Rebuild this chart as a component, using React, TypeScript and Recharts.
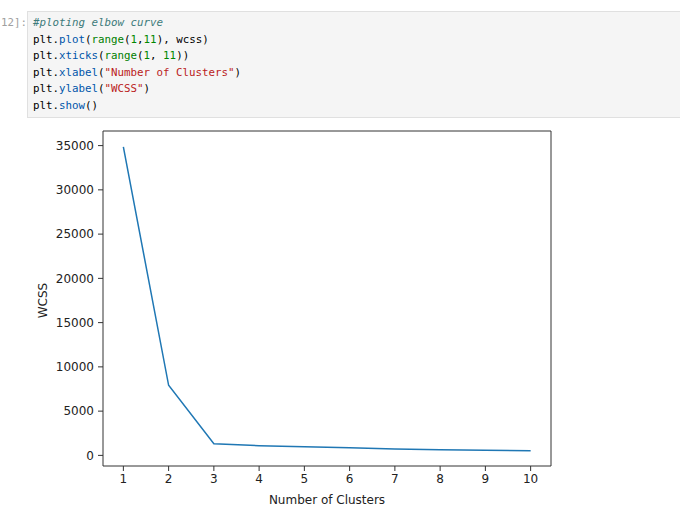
import React from 'react';
import { LineChart, Line, XAxis, YAxis, ReferenceLine } from 'recharts';

const clusters = [1, 2, 3, 4, 5, 6, 7, 8, 9, 10];
const wcss = [34850, 7920, 1320, 1100, 980, 870, 720, 640, 570, 530];
const xTicks = [1, 2, 3, 4, 5, 6, 7, 8, 9, 10];
const yTicks = [0, 5000, 10000, 15000, 20000, 25000, 30000, 35000];
const xDomain = [0.55, 10.45];
const yDomain = [-1200, 36650];

const data = clusters.map((k, i) => ({ k, wcss: wcss[i] }));

const C = {
  comment: '#3d7b7b',
  prop: '#0055aa',
  builtin: '#008000',
  num: '#008800',
  str: '#ba2121',
  txt: '#000000',
};

type Tok = [string, string, boolean?];
const codeLines: Tok[][] = [
  [['#ploting elbow curve', C.comment, true]],
  [['plt.', C.txt], ['plot', C.prop], ['(', C.txt], ['range', C.builtin], ['(', C.txt], ['1', C.num], [',', C.txt], ['11', C.num], ['), wcss)', C.txt]],
  [['plt.', C.txt], ['xticks', C.prop], ['(', C.txt], ['range', C.builtin], ['(', C.txt], ['1', C.num], [', ', C.txt], ['11', C.num], ['))', C.txt]],
  [['plt.', C.txt], ['xlabel', C.prop], ['(', C.txt], ['"Number of Clusters"', C.str], [')', C.txt]],
  [['plt.', C.txt], ['ylabel', C.prop], ['(', C.txt], ['"WCSS"', C.str], [')', C.txt]],
  [['plt.', C.txt], ['show', C.prop], ['()', C.txt]],
];

const axisColor = '#333333';
const tickStyle = { fill: '#222222', fontSize: 12, fontFamily: 'DejaVu Sans' };

const YLabel = (props: any) => {
  const vb = props.viewBox || { x: 0, y: 0, width: 0, height: 0 };
  const x = vb.x + 43;
  const y = vb.y + vb.height / 2 + 2;
  return (
    <text
      x={x}
      y={y}
      transform={`rotate(-90 ${x} ${y})`}
      textAnchor="middle"
      dominantBaseline="central"
      fill="#222222"
      fontSize={12}
      fontFamily="DejaVu Sans"
    >
      WCSS
    </text>
  );
};

export default function App() {
  return (
    <div
      style={{
        position: 'absolute',
        left: 0,
        top: 0,
        width: 680,
        height: 513,
        overflow: 'hidden',
        background: '#ffffff',
      }}
    >
      <div
        style={{
          position: 'absolute',
          left: 1,
          top: 15,
          fontFamily: 'DejaVu Sans Mono',
          fontSize: 10.8,
          lineHeight: '16.6px',
          color: '#a0a0a0',
          whiteSpace: 'pre',
        }}
      >
        12]:
      </div>
      <div
        style={{
          position: 'absolute',
          left: 27,
          top: 11,
          width: 680,
          height: 105,
          background: '#f5f5f5',
          border: '1px solid #e0e0e0',
          boxSizing: 'content-box',
        }}
      >
        <pre
          style={{
            margin: 0,
            padding: '3px 5px',
            fontFamily: 'DejaVu Sans Mono',
            fontSize: 10.8,
            lineHeight: '16.6px',
          }}
        >
          {codeLines.map((line, i) => (
            <div key={i}>
              {line.map(([t, c, it], j) => (
                <span key={j} style={{ color: c, fontStyle: it ? 'italic' : 'normal' }}>
                  {t}
                </span>
              ))}
            </div>
          ))}
        </pre>
      </div>
      <div style={{ position: 'absolute', left: 0, top: 0 }}>
        <LineChart
          width={680}
          height={513}
          data={data}
          margin={{ top: 131, right: 129, bottom: 0, left: 0 }}
        >
          <XAxis
            dataKey="k"
            type="number"
            domain={xDomain}
            ticks={xTicks}
            interval={0}
            height={47}
            tick={tickStyle}
            tickSize={5}
            tickMargin={3}
            axisLine={{ stroke: axisColor, strokeWidth: 1 }}
            tickLine={{ stroke: axisColor, strokeWidth: 1 }}
            allowDataOverflow
            label={{
              value: 'Number of Clusters',
              position: 'insideBottom',
              offset: 9,
              fill: '#222222',
              fontSize: 12,
              fontFamily: 'DejaVu Sans',
            }}
          />
          <YAxis
            type="number"
            domain={yDomain}
            ticks={yTicks}
            interval={0}
            width={103}
            tick={tickStyle}
            tickSize={5}
            tickMargin={4}
            axisLine={{ stroke: axisColor, strokeWidth: 1 }}
            tickLine={{ stroke: axisColor, strokeWidth: 1 }}
            allowDataOverflow
            label={<YLabel />}
          />
          <ReferenceLine y={yDomain[1]} stroke={axisColor} strokeWidth={1} ifOverflow="visible" />
          <ReferenceLine x={xDomain[1]} stroke={axisColor} strokeWidth={1} ifOverflow="visible" />
          <Line
            type="linear"
            dataKey="wcss"
            stroke="#1f77b4"
            strokeWidth={1.5}
            dot={false}
            isAnimationActive={false}
          />
        </LineChart>
      </div>
    </div>
  );
}
